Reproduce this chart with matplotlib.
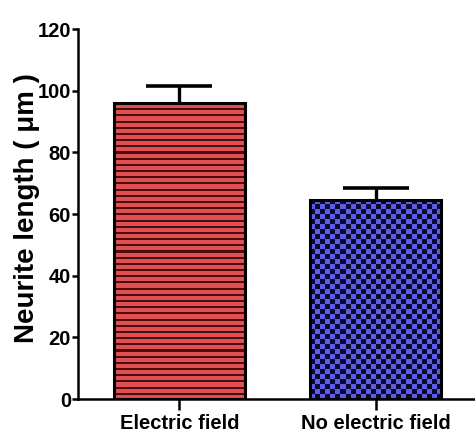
import numpy as np
import matplotlib
matplotlib.use("Agg")
import matplotlib.pyplot as plt
from matplotlib.colors import ListedColormap

categories = ["Electric field", "No electric field"]
means = [96, 64.5]
errors = [5.5, 4.0]

red_fill = "#e05052"
red_line = "#4a0c0e"
blue_fill = "#5c5ce6"
blue_dark = "#0a0a30"

fig = plt.figure(figsize=(4.75, 4.4), dpi=100)
ax = fig.add_axes([0.164, 0.093, 0.836, 0.841])

x = np.arange(len(categories))
width = 0.667
bars = ax.bar(x, means, width=width, facecolor="none", edgecolor="black",
              linewidth=2.2, zorder=3)

# textures clipped to the bars: horizontal stripes and a checkerboard
b0 = bars[0]
nrows = int(round(means[0] / 2.0)) * 3
stripes = np.array([[1], [0], [0]] * (nrows // 3))
im0 = ax.imshow(stripes, cmap=ListedColormap([red_fill, red_line]),
                extent=[b0.get_x(), b0.get_x() + width, 0, nrows / 3 * 2.0],
                origin="upper", aspect="auto", interpolation="nearest", zorder=2)
im0.set_clip_path(b0)

b1 = bars[1]
ny = int(np.ceil(means[1] / 1.62))
nx = int(round(width / 0.0255))
ii, jj = np.indices((ny, nx))
checker = (ii + jj) % 2
im1 = ax.imshow(checker, cmap=ListedColormap([blue_fill, blue_dark]),
                extent=[b1.get_x(), b1.get_x() + width, 0, ny * 1.62],
                origin="lower", aspect="auto", interpolation="nearest", zorder=2)
im1.set_clip_path(b1)

# upper error bars only
eb = ax.errorbar(x, means, yerr=[np.zeros(len(means)), errors], fmt="none",
                 ecolor="black", elinewidth=2.4, capsize=24, capthick=2.6, zorder=4)
eb[1][0].set_visible(False)

ax.set_xlim(-0.517, 1.504)
ax.set_ylim(0, 120)
ax.set_yticks(np.arange(0, 121, 20))
ax.set_xticks(x)
ax.set_xticklabels(categories)

for s in ["top", "right"]:
    ax.spines[s].set_visible(False)
for s in ["left", "bottom"]:
    ax.spines[s].set_linewidth(1.8)

ax.tick_params(axis="y", length=4, width=1.8, pad=1)
ax.tick_params(axis="x", length=8, width=1.8, pad=3)
for lab in ax.get_yticklabels() + ax.get_xticklabels():
    lab.set_fontfamily("Liberation Sans")
    lab.set_fontweight("bold")
    lab.set_fontsize(14.5)

ax.set_ylabel("Neurite length ( \u03bcm )", family="Liberation Sans", weight="bold",
              fontsize=20)
ax.yaxis.set_label_coords(-0.096, 0.515)

fig.savefig("out.png", dpi=100)
